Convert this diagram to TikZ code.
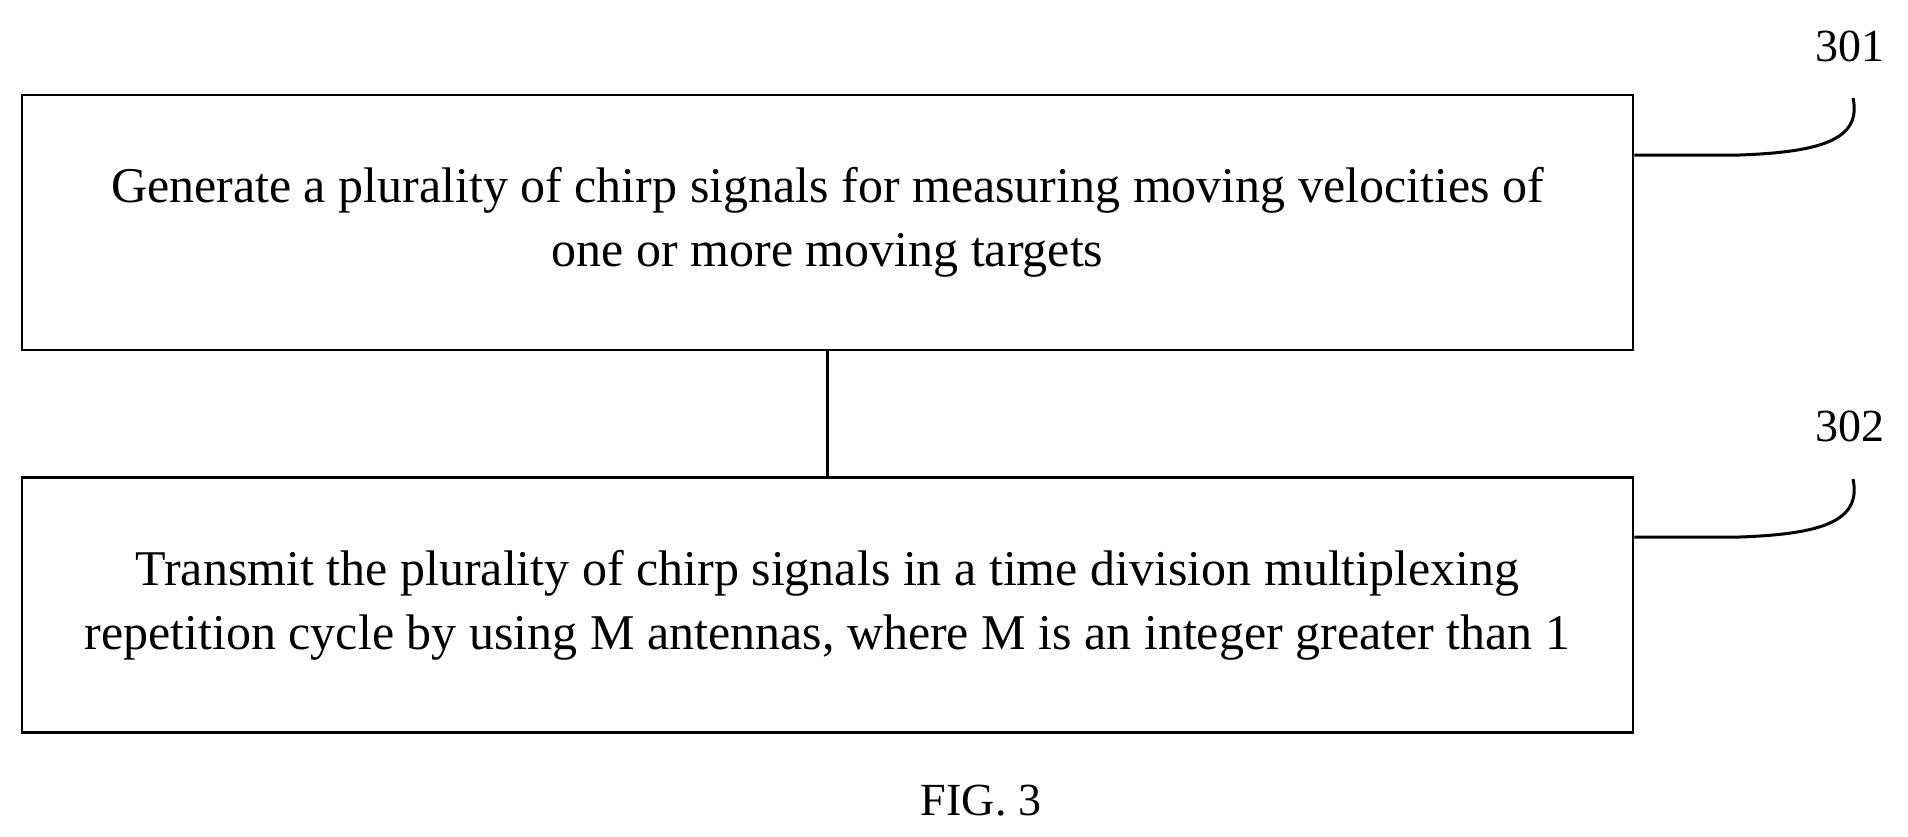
\documentclass[tikz,border=0pt]{standalone}
\usepackage{fontspec}
\setmainfont{Liberation Serif}
\begin{document}
\begin{tikzpicture}[x=1pt,y=-1pt,
  box/.style={draw,line width=2.5pt,minimum width=1611pt,minimum height=255pt,align=center,inner sep=0pt,font=\fontsize{50}{64}\selectfont},
  lbl/.style={font=\fontsize{46}{50}\selectfont},
  ln/.style={line width=3pt}]
\useasboundingbox (0,0) rectangle (1908,836);
\node[box] (b1) at (827.5,222.5) {Generate a plurality of chirp signals\ for measuring moving velocities of\\one or more moving targets};
\node[box] (b2) at (827.5,605) {Transmit the plurality of chirp signals in a time division multiplexing\\repetition cycle by using M antennas, where M is an integer greater than 1};
\draw[ln] (b1.south) -- (b2.north);
\node[lbl] (l1) at (1850,46) {301};
\node[lbl] (l2) at (1850,426) {302};
\coordinate (c1) at (1853,98);
\coordinate (c2) at (1853,479);
\draw[ln] (b1.east|-0,155) -- (1740,155) .. controls (1820,152) and (1862,140) .. (c1);
\draw[ln] (b2.east|-0,537) -- (1740,537) .. controls (1820,534) and (1862,522) .. (c2);
\node[lbl] (fig) at (981,801) {FIG. 3};
\end{tikzpicture}
\end{document}
